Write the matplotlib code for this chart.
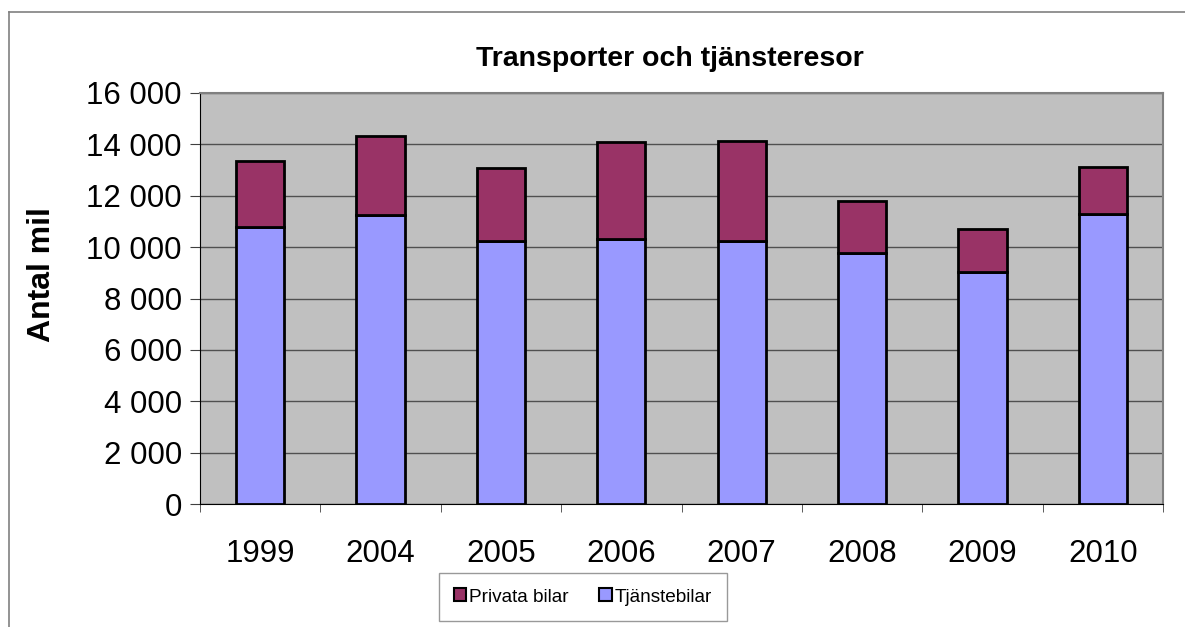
import matplotlib
matplotlib.use("Agg")
import matplotlib.pyplot as plt
from matplotlib.patches import Patch
from matplotlib.lines import Line2D
from matplotlib.ticker import FuncFormatter, FixedLocator

plt.rcParams['font.family'] = ['Liberation Sans', 'DejaVu Sans']

# data
years = ['1999', '2004', '2005', '2006', '2007', '2008', '2009', '2010']
tjanstebilar = [10770, 11270, 10230, 10320, 10230, 9760, 9030, 11290]
privata_bilar = [2600, 3040, 2860, 3770, 3910, 2050, 1680, 1810]
y_ticks = [0, 2000, 4000, 6000, 8000, 10000, 12000, 14000, 16000]

blue = '#9999FF'
maroon = '#993366'

W, H = 1185, 627
fig = plt.figure(figsize=(W / 100, H / 100), dpi=100)
ax = fig.add_axes([200 / W, 1 - 504 / H, (1163 - 200) / W, (504 - 93) / H])
ax.set_facecolor('#C0C0C0')

x = list(range(len(years)))
ax.bar(x, tjanstebilar, width=0.4, color=blue, edgecolor='black', linewidth=2, zorder=3)
ax.bar(x, privata_bilar, width=0.4, bottom=tjanstebilar, color=maroon,
       edgecolor='black', linewidth=2, zorder=3)

ax.set_xlim(-0.5, len(years) - 0.5)
ax.set_ylim(0, 16000)
ax.set_yticks(y_ticks)
ax.yaxis.set_major_formatter(FuncFormatter(lambda v, p: f"{int(v):,}".replace(",", " ")))
ax.grid(axis='y', color='#505050', linewidth=1, zorder=1)

# category labels at centres, tick marks at category boundaries
ax.set_xticks(x)
ax.set_xticklabels(years)
ax.xaxis.set_minor_locator(FixedLocator([i - 0.5 for i in range(len(years) + 1)]))
ax.tick_params(axis='x', which='major', length=0, labelsize=22.5, pad=25)
ax.tick_params(axis='x', which='minor', length=6, color='#404040', direction='out')
ax.tick_params(axis='y', length=7, color='#404040', labelsize=22.5, pad=6)

for s in ['top', 'right']:
    ax.spines[s].set_color('#808080')
    ax.spines[s].set_linewidth(1.5)
ax.spines['left'].set_color('black')
ax.spines['bottom'].set_color('black')

fig.text(42 / W, 1 - 275 / H, 'Antal mil', rotation=90, ha='center', va='center',
         fontsize=23, fontweight='bold')

fig.text(670 / W, 1 - 66 / H, 'Transporter och tjänsteresor', ha='center',
         va='baseline', fontsize=20.5, fontweight='bold')

handles = [Patch(facecolor=maroon, edgecolor='black', linewidth=1.5, label='Privata bilar'),
           Patch(facecolor=blue, edgecolor='black', linewidth=1.5, label='Tjänstebilar')]
leg = fig.legend(handles=handles, loc='center', bbox_to_anchor=(583 / W, 1 - 597 / H),
                 ncol=2, fontsize=13.7, frameon=True, fancybox=False,
                 edgecolor='#808080', handlelength=0.65, handleheight=0.65,
                 handletextpad=0.15, columnspacing=1.6, borderpad=0.8,
                 borderaxespad=0)
leg.get_frame().set_linewidth(1)

# outer chart border (left and top edges)
fig.add_artist(Line2D([9 / W, 9 / W], [0, 1 - 12 / H], color='#808080', linewidth=1.2))
fig.add_artist(Line2D([9 / W, 1], [1 - 12 / H, 1 - 12 / H], color='#808080', linewidth=1.2))

fig.savefig('out.png', dpi=100)
